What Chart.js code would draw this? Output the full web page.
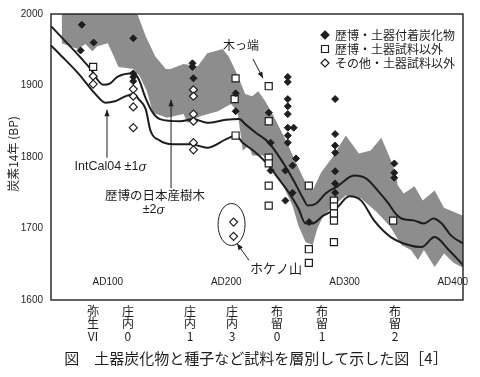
<!DOCTYPE html>
<html>
<head>
<meta charset="utf-8">
<script src="https://cdn.jsdelivr.net/npm/chart.js@4.4.0/dist/chart.umd.min.js"></script>
<style>
  html, body { margin: 0; padding: 0; background: #fff; }
</style>
</head>
<body>
<canvas id="c14Chart" width="480" height="377"></canvas>
<script>
// 歴博の日本産樹木 ±2σ (gray band)
const bandTopYears = [61, 123, 125, 132, 140, 149, 153, 164, 176, 184, 197, 202, 210, 216, 222, 227, 233, 239, 250, 259, 267, 273, 280, 289, 301, 312, 322, 331, 341, 345, 350, 359, 366, 376, 384, 400];
const bandTopBP = [2012, 2012, 2000, 1969, 1941, 1923, 1923, 1930, 1927, 1945, 1951, 1941, 1913, 1888, 1885, 1892, 1878, 1860, 1825, 1792, 1764, 1753, 1778, 1798, 1830, 1805, 1809, 1827, 1788, 1760, 1749, 1759, 1739, 1753, 1729, 1718];
const bandBottomYears = [61, 68, 75, 81, 87, 91, 100, 105, 109, 122, 127, 133, 138, 150, 164, 167, 178, 193, 204, 209.5, 214, 219, 222, 231, 239, 248, 256, 261, 267, 273, 277, 282, 291, 301, 314, 327, 338, 348, 356, 362, 367, 376, 384, 392, 400];
const bandBottomBP = [1959, 1955, 1951, 1958, 1948, 1955, 1959, 1941, 1926, 1923, 1913, 1892, 1862, 1855, 1860, 1848, 1857, 1864, 1874, 1864, 1809, 1816, 1802, 1802, 1784, 1760, 1732, 1704, 1681, 1677, 1700, 1718, 1732, 1746, 1742, 1723, 1704, 1677, 1670, 1656, 1670, 1646, 1665, 1652, 1645];

// IntCal04 ±1σ
const intcalUpperYears = [52, 60, 72, 85, 96, 102, 108, 122, 126, 132, 138, 144, 161, 172, 184, 200, 211, 216, 225, 236, 248, 256, 265, 269, 276, 284, 294, 308, 318, 328, 337, 342, 348, 359, 367, 375, 382, 390, 400];
const intcalUpperBP = [1983, 1969, 1948, 1924, 1901, 1903, 1912, 1917, 1909, 1882, 1862, 1853, 1850, 1853, 1848, 1852, 1853, 1846, 1834, 1820, 1792, 1770, 1742, 1732, 1735, 1749, 1759, 1774, 1770, 1753, 1735, 1723, 1714, 1711, 1707, 1714, 1707, 1690, 1679];
const intcalLowerYears = [52, 61, 75, 89, 98, 106, 115, 122, 126, 132, 136, 144, 155, 170, 184, 200, 208, 214, 225, 236, 244, 253, 261, 267, 273, 282, 293, 304, 314, 325, 339, 354, 365, 376, 388, 400];
const intcalLowerBP = [1956, 1941, 1917, 1889, 1876, 1878, 1885, 1888, 1881, 1867, 1837, 1823, 1818, 1818, 1813, 1825, 1830, 1820, 1806, 1788, 1770, 1750, 1728, 1707, 1707, 1718, 1728, 1745, 1739, 1711, 1688, 1677, 1674, 1688, 1670, 1649];

// 歴博・土器付着炭化物
const charcoalYears = [78, 77, 88, 121.5, 121.5, 121.5, 121.5, 171.5, 171.5, 172.3, 208, 208, 236, 237.5, 237.5, 252, 252, 252, 252, 252, 252, 257, 252, 252, 259, 256, 250, 256, 250, 270, 292, 292, 292, 292, 292, 292, 292, 342, 342, 342];
const charcoalBP = [1985, 1949, 1960, 1966, 1917, 1912, 1906, 1931, 1926, 1910, 1889, 1864, 1862, 1820, 1781, 1912, 1905, 1881, 1871, 1860, 1841, 1841, 1830, 1820, 1798, 1788, 1781, 1750, 1739, 1709, 1881, 1832, 1816, 1806, 1780, 1763, 1750, 1791, 1778, 1771];
// 歴博・土器試料以外
const rekihakuOtherYears = [87.6, 207.9, 207.1, 207.9, 235.9, 235.9, 235.9, 235.9, 235.9, 235.9, 269.8, 269.8, 269.8, 291, 291, 291, 291, 291, 341];
const rekihakuOtherBP = [1926, 1910, 1881, 1830, 1899, 1850, 1799, 1791, 1760, 1732, 1760, 1671, 1652, 1739, 1731, 1721, 1711, 1681, 1711];
// その他・土器試料以外
const otherSitesYears = [87.6, 87.6, 121.5, 121.5, 121.5, 121.5, 172.3, 172.3, 172.3, 172.3, 172.3, 172.3, 206.2, 206.2];
const otherSitesBP = [1913, 1902, 1895, 1885, 1870, 1841, 1894, 1885, 1860, 1850, 1820, 1810, 1709, 1689];

const adYears = [100, 200, 300, 400];
const yTicks = [1600, 1700, 1800, 1900, 2000];
const phaseYears = [87.5, 117, 169.4, 204.9, 242.9, 280.9, 342.6];
const phaseLabels = [['弥', '生', 'Ⅵ'], ['庄', '内', '0'], ['庄', '内', '1'], ['庄', '内', '3'], ['布', '留', '0'], ['布', '留', '1'], ['布', '留', '2']];
const legendLabels = ['歴博・土器付着炭化物', '歴博・土器試料以外', 'その他・土器試料以外'];

const CJK = '"Noto Sans CJK JP", sans-serif';
const LAT = '"Liberation Sans", Arial, sans-serif';
const INK = '#1e1e1e';

const pts = (xs, ys) => xs.map((x, i) => ({ x: x, y: ys[i] }));

function arrow(ctx, x0, y0, x1, y1) {
	ctx.beginPath();
	ctx.moveTo(x0, y0);
	ctx.lineTo(x1, y1);
	ctx.stroke();
	const ang = Math.atan2(y1 - y0, x1 - x0);
	ctx.beginPath();
	ctx.moveTo(x1, y1);
	ctx.lineTo(x1 - 7 * Math.cos(ang - 0.38), y1 - 7 * Math.sin(ang - 0.38));
	ctx.lineTo(x1 - 7 * Math.cos(ang + 0.38), y1 - 7 * Math.sin(ang + 0.38));
	ctx.closePath();
	ctx.fill();
}

function marker(ctx, kind, cx, cy) {
	ctx.beginPath();
	if (kind === 'square') {
		ctx.rect(cx - 3.5, cy - 3.5, 7, 7);
		ctx.fillStyle = '#fff';
		ctx.fill();
		ctx.stroke();
	} else {
		ctx.moveTo(cx, cy - 4);
		ctx.lineTo(cx + 4, cy);
		ctx.lineTo(cx, cy + 4);
		ctx.lineTo(cx - 4, cy);
		ctx.closePath();
		ctx.fillStyle = kind === 'filled' ? INK : '#fff';
		ctx.fill();
		ctx.stroke();
	}
}

const annotations = {
	id: 'annotations',
	afterDraw(chart) {
		const { ctx, chartArea: a, scales } = chart;
		const px = v => scales.x.getPixelForValue(v);
		const py = v => scales.y.getPixelForValue(v);
		ctx.save();

		// frame
		ctx.strokeStyle = INK;
		ctx.lineWidth = 1.4;
		ctx.strokeRect(a.left, a.top, a.right - a.left, a.bottom - a.top);

		ctx.fillStyle = INK;
		ctx.textBaseline = 'middle';

		// AD labels inside the plot
		ctx.font = '10px ' + LAT;
		ctx.textAlign = 'center';
		adYears.forEach(yr => {
			const w = ctx.measureText('AD' + yr).width;
			const cx = Math.min(px(yr), a.right + 5 - w / 2);
			ctx.fillText('AD' + yr, cx, a.bottom - 18);
		});

		// y axis title
		ctx.save();
		ctx.translate(13, 154);
		ctx.rotate(-Math.PI / 2);
		ctx.font = '12px ' + CJK;
		ctx.textAlign = 'center';
		ctx.fillText('炭素14年 (BP)', 0, 0);
		ctx.restore();

		// phases under the axis
		ctx.font = '12px ' + CJK;
		ctx.textAlign = 'center';
		phaseYears.forEach((yr, i) => {
			phaseLabels[i].forEach((ch, r) => ctx.fillText(ch, px(yr), a.bottom + 11 + r * 12.5));
		});

		// caption
		ctx.font = '15px ' + CJK;
		ctx.fillText('図　土器炭化物と種子など試料を層別して示した図［4］', 256, 358);

		// legend
		ctx.lineWidth = 1.2;
		ctx.strokeStyle = INK;
		['filled', 'square', 'open'].forEach((k, i) => {
			const ly = 35 + i * 14;
			marker(ctx, k, 325, ly);
			ctx.fillStyle = INK;
			ctx.font = '12px ' + CJK;
			ctx.textAlign = 'left';
			ctx.fillText(legendLabels[i], 335, ly);
		});

		// IntCal04 label + arrow
		ctx.fillStyle = INK;
		ctx.strokeStyle = INK;
		ctx.lineWidth = 1;
		arrow(ctx, px(99.3), py(1799), px(99.3), py(1866));
		ctx.font = '12.5px ' + LAT;
		ctx.textAlign = 'left';
		const t1 = 'IntCal04 ±1';
		const w1 = ctx.measureText(t1).width;
		const x1 = px(101.8) - (w1 + 7) / 2;
		ctx.fillText(t1, x1, py(1786));
		ctx.font = 'italic 13px ' + LAT;
		ctx.fillText('σ', x1 + w1, py(1786));

		// 歴博の日本産樹木 label + arrow
		arrow(ctx, px(153.4), py(1756), px(153.4), py(1880));
		ctx.font = '12.5px ' + CJK;
		ctx.textAlign = 'center';
		ctx.fillText('歴博の日本産樹木', px(139.8), py(1746));
		ctx.font = '12.5px ' + LAT;
		ctx.textAlign = 'left';
		const w2 = ctx.measureText('±2').width;
		const x2 = px(138.2) - (w2 + 7) / 2;
		ctx.fillText('±2', x2, py(1726));
		ctx.font = 'italic 13px ' + LAT;
		ctx.fillText('σ', x2 + w2, py(1726));

		// 木っ端
		ctx.font = '12px ' + CJK;
		ctx.textAlign = 'center';
		ctx.fillText('木っ端', px(212.5), py(1956));
		arrow(ctx, px(222.6), py(1937), px(231.1), py(1910));

		// ホケノ山
		ctx.beginPath();
		ctx.ellipse(px(204.5), py(1705.6), 13.5, 21, 0, 0, Math.PI * 2);
		ctx.stroke();
		ctx.font = '13px ' + CJK;
		ctx.fillText('ホケノ山', px(242), py(1644));
		arrow(ctx, px(219.2), py(1655.6), px(209.1), py(1679));

		ctx.restore();
	}
};

new Chart(document.getElementById('c14Chart'), {
	type: 'scatter',
	data: {
		datasets: [
			{
				label: '歴博の日本産樹木 ±2σ (上)',
				data: pts(bandTopYears, bandTopBP),
				showLine: true,
				borderWidth: 0,
				pointRadius: 0,
				fill: false,
				order: 3,
			},
			{
				label: '歴博の日本産樹木 ±2σ (下)',
				data: pts(bandBottomYears, bandBottomBP),
				showLine: true,
				borderWidth: 0,
				pointRadius: 0,
				backgroundColor: '#8d8d8d',
				fill: '-1',
				order: 3,
			},
			{
				label: 'IntCal04 +1σ',
				data: pts(intcalUpperYears, intcalUpperBP),
				showLine: true,
				borderColor: INK,
				borderWidth: 2,
				pointRadius: 0,
				tension: 0.4,
				cubicInterpolationMode: 'monotone',
				fill: false,
				order: 2,
			},
			{
				label: 'IntCal04 -1σ',
				data: pts(intcalLowerYears, intcalLowerBP),
				showLine: true,
				borderColor: INK,
				borderWidth: 2,
				pointRadius: 0,
				tension: 0.4,
				cubicInterpolationMode: 'monotone',
				fill: false,
				order: 2,
			},
			{
				label: legendLabels[1],
				data: pts(rekihakuOtherYears, rekihakuOtherBP),
				pointStyle: 'rect',
				pointRadius: 5,
				backgroundColor: '#fff',
				borderColor: INK,
				borderWidth: 1.2,
				order: 1,
			},
			{
				label: legendLabels[2],
				data: pts(otherSitesYears, otherSitesBP),
				pointStyle: 'rectRot',
				pointRadius: 4,
				backgroundColor: '#fff',
				borderColor: INK,
				borderWidth: 1.2,
				order: 1,
			},
			{
				label: legendLabels[0],
				data: pts(charcoalYears, charcoalBP),
				pointStyle: 'rectRot',
				pointRadius: 3.5,
				backgroundColor: INK,
				borderColor: INK,
				borderWidth: 1,
				order: 0,
			},
		]
	},
	options: {
		responsive: false,
		animation: false,
		layout: { padding: { top: 12, right: 17, bottom: 77, left: 0 } },
		plugins: {
			legend: { display: false },
			tooltip: { enabled: false },
		},
		scales: {
			x: { type: 'linear', min: 52, max: 400, display: false },
			y: {
				type: 'linear',
				min: 1600,
				max: 2000,
				afterFit: s => { s.width = 51; },
				afterBuildTicks: s => { s.ticks = yTicks.map(v => ({ value: v })); },
				grid: { display: false, drawTicks: false },
				border: { display: false },
				ticks: {
					padding: 8,
					color: INK,
					font: { family: 'Liberation Sans', size: 10 },
					callback: v => String(v),
				},
			},
		},
	},
	plugins: [annotations],
});
</script>
</body>
</html>
